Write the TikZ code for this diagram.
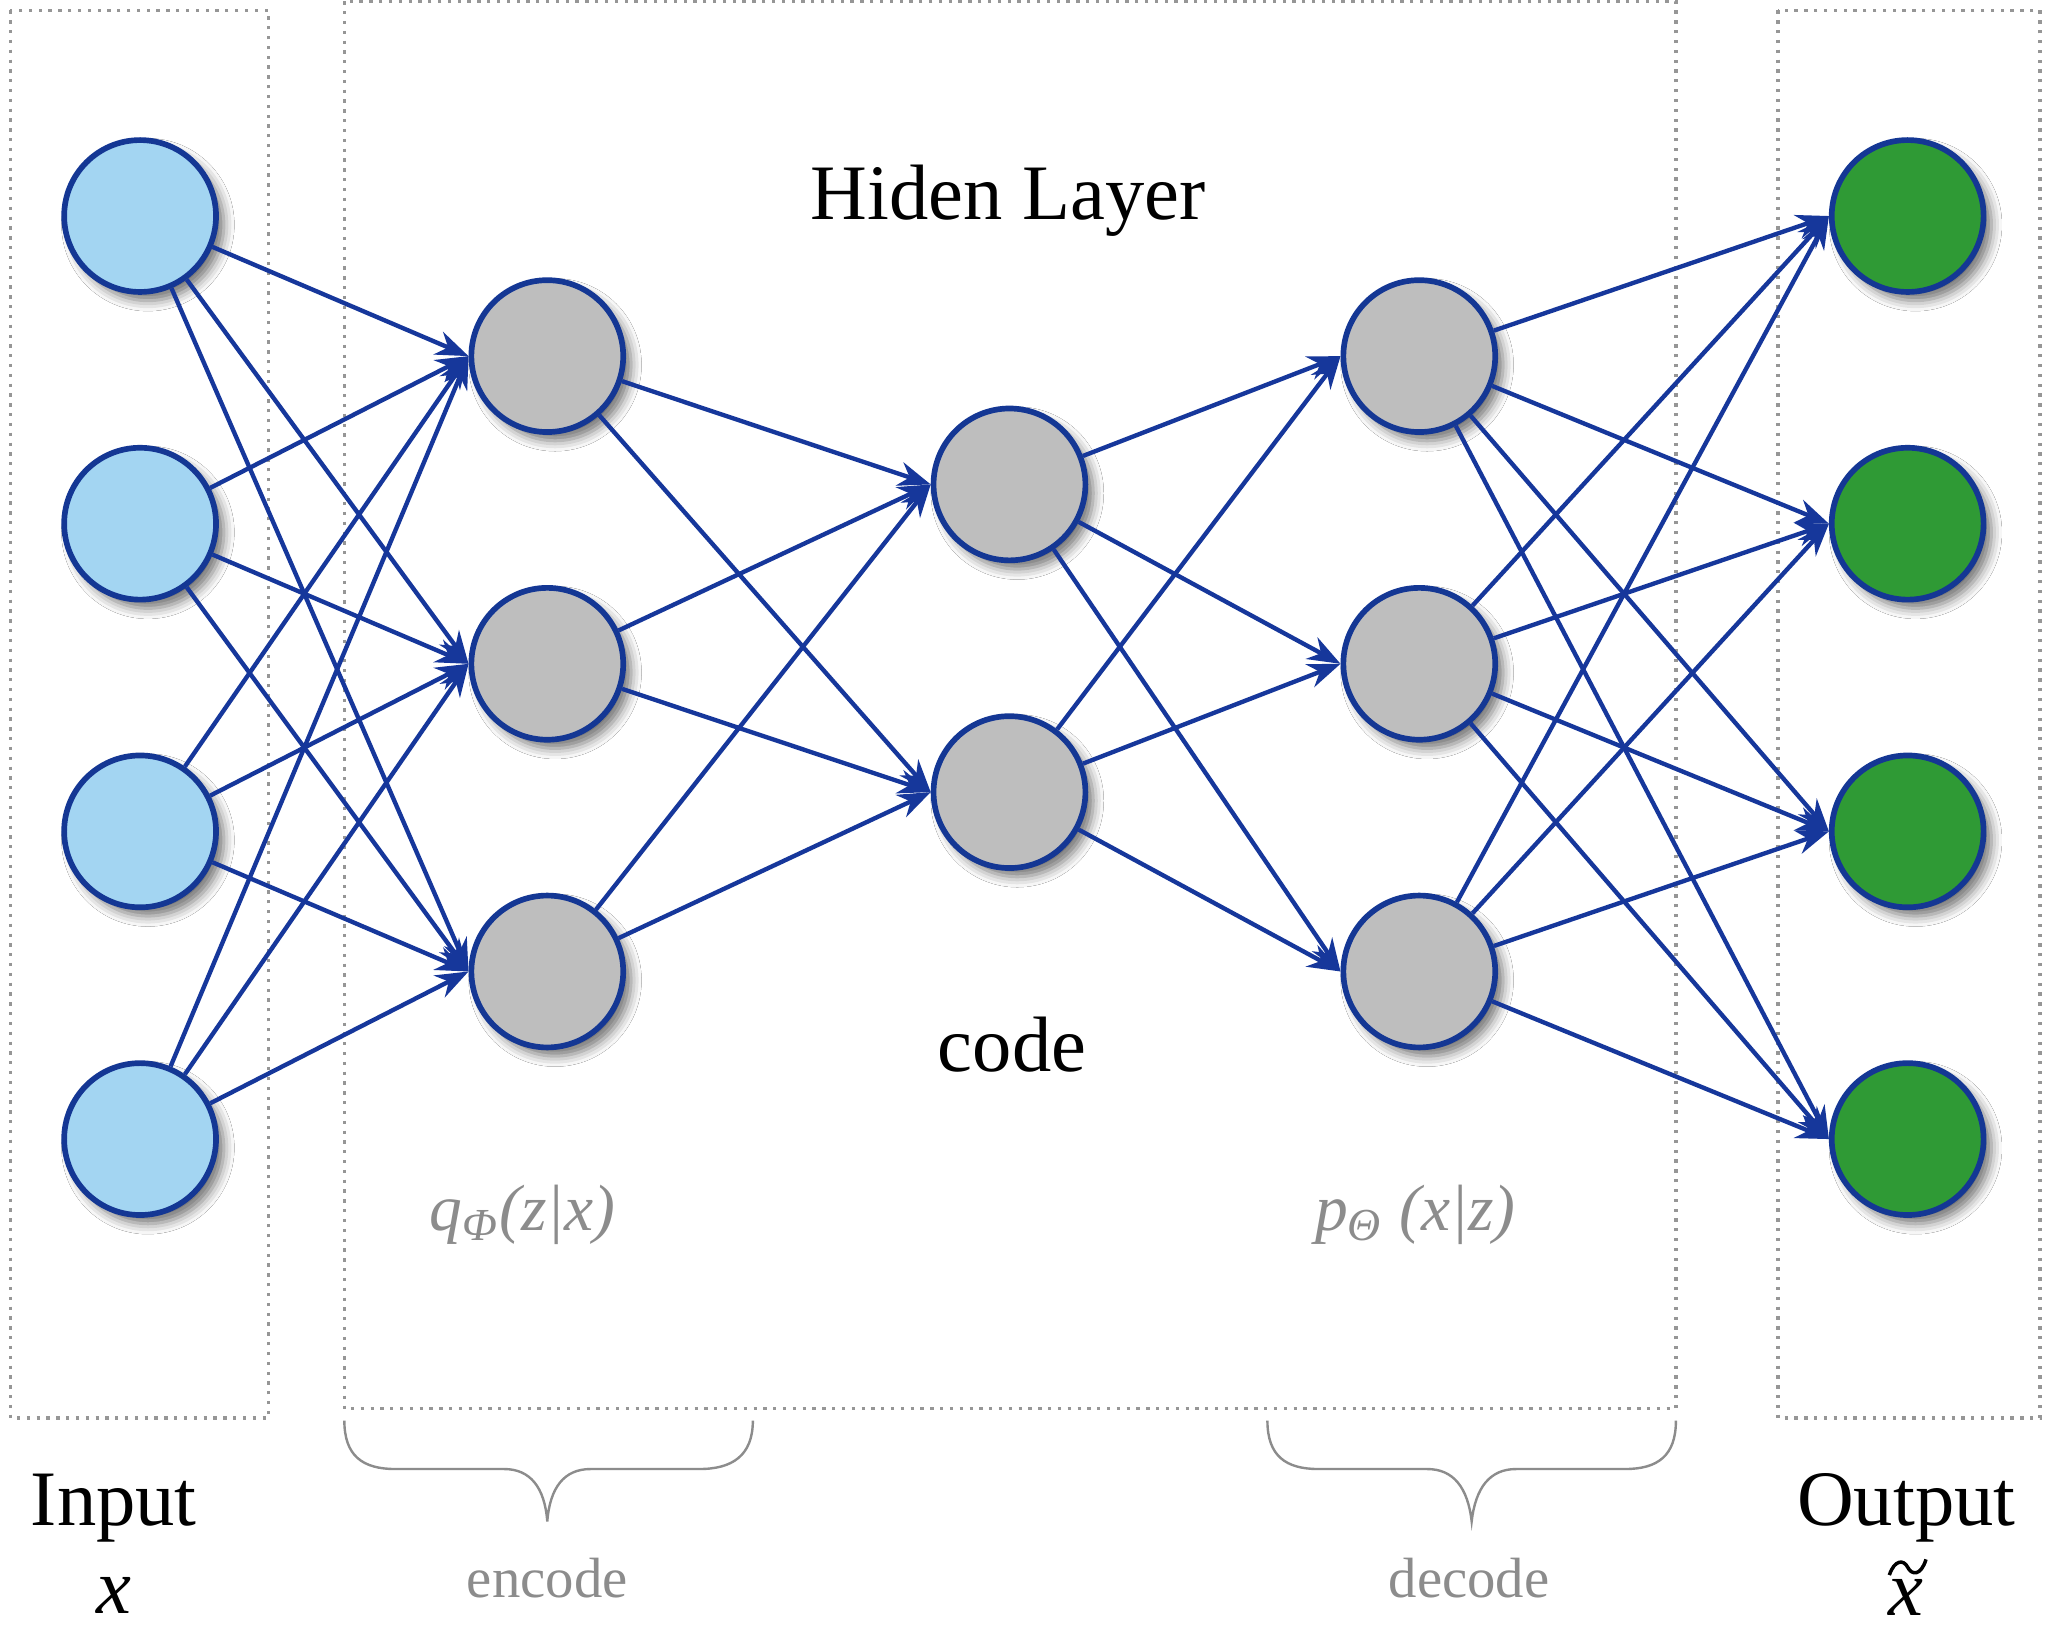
\documentclass[tikz,border=0pt]{standalone}
\usepackage{fontspec}
\setmainfont{Liberation Serif}
\usetikzlibrary{arrows.meta,shadows.blur}
\definecolor{nodeborder}{RGB}{20,55,148}
\definecolor{linkcol}{RGB}{22,55,155}
\definecolor{inblue}{RGB}{163,213,242}
\definecolor{hidgray}{RGB}{190,190,190}
\definecolor{outgreen}{RGB}{47,154,53}
\definecolor{boxgray}{RGB}{150,150,150}
\definecolor{txtgray}{RGB}{140,140,140}
\tikzset{
  neuron/.style={circle,draw=nodeborder,line width=1.3pt,minimum size=34.8pt,inner sep=0pt,
    blur shadow={shadow xshift=1.8pt,shadow yshift=-2pt,shadow blur radius=2.4pt,shadow opacity=55}},
  inneuron/.style={neuron,fill=inblue},
  hidneuron/.style={neuron,fill=hidgray},
  outneuron/.style={neuron,fill=outgreen},
  link/.style={draw=linkcol,line width=1pt,-{Stealth[length=7.5pt,width=5.6pt]}},
  dotbox/.style={draw=boxgray,line width=0.75pt,dash pattern=on 0.75pt off 1.5pt},
  bracecurve/.style={draw=txtgray,line width=0.55pt},
  bigtxt/.style={font=\fontsize{18}{20}\selectfont,anchor=base,inner sep=0pt},
  graytxt/.style={font=\fontsize{13}{15}\selectfont,text=txtgray,anchor=base,inner sep=0pt},
  mathtxt/.style={font=\fontsize{15}{17}\selectfont\itshape,text=txtgray,anchor=base,inner sep=0pt}
}
\begin{document}
\begin{tikzpicture}[x=0.3pt,y=-0.3pt]
\useasboundingbox[fill=white] (0,0) rectangle (1568,1249);
% dotted boxes
\draw[dotbox] (8,8) rectangle (205,1083);
\draw[dotbox] (263,1) rectangle (1280,1076);
\draw[dotbox] (1358,8) rectangle (1558,1083);
% neurons
\foreach \i/\y in {1/165,2/400,3/635,4/870}{
  \node[inneuron] (in\i) at (107,\y) {};
  \node[outneuron] (out\i) at (1457,\y) {};
}
\foreach \i/\y in {1/272,2/507,3/742}{
  \node[hidneuron] (ha\i) at (418,\y) {};
  \node[hidneuron] (hb\i) at (1084,\y) {};
}
\node[hidneuron] (c1) at (771,370) {};
\node[hidneuron] (c2) at (771,605) {};
% links
\foreach \s in {1,2,3,4}{\foreach \t in {1,2,3}{\draw[link] (in\s) -- (ha\t.west);}}
\foreach \s in {1,2,3}{\foreach \t in {1,2}{\draw[link] (ha\s) -- (c\t.west);}}
\foreach \s in {1,2}{\foreach \t in {1,2,3}{\draw[link] (c\s) -- (hb\t.west);}}
\foreach \s in {1,2,3}{\foreach \t in {1,2,3,4}{\draw[link] (hb\s) -- (out\t.west);}}
% texts
\node[bigtxt] (hl) at (770,168) {Hiden Layer};
\node[bigtxt] (code) at (773,818) {code};
\node[mathtxt] (q) at (399,940) {q\textsubscript{Φ}(z|x)};
\node[mathtxt] (p) at (1081,940) {p\textsubscript{Θ} (x|z)};
\node[bigtxt] (inp) at (87,1165) {Input};
\node[bigtxt,font=\fontsize{18}{20}\selectfont\itshape] (xin) at (87,1232) {x};
\node[bigtxt] (outp) at (1456,1165) {Output};
\node[bigtxt,font=\fontsize{18}{20}\selectfont\itshape] (xout) at (1456,1234) {x};
\draw[line width=0.8pt] (1443,1203) .. controls (1447,1191) and (1454,1191) .. (1457,1197)
  .. controls (1460,1203) and (1467,1204) .. (1471,1191);
\node[graytxt] (enc) at (418,1220) {encode};
\node[graytxt] (dec) at (1122,1220) {decode};
% braces
\draw[bracecurve] (263,1085) .. controls (263,1112) and (277,1122) .. (302,1122) -- (385,1122)
  .. controls (405,1122) and (416,1136) .. (418,1162)
  .. controls (420,1136) and (431,1122) .. (451,1122) -- (534,1122)
  .. controls (559,1122) and (575,1112) .. (575,1085);
\draw[bracecurve] (968,1085) .. controls (968,1112) and (982,1122) .. (1007,1122) -- (1090,1122)
  .. controls (1110,1122) and (1121,1136) .. (1124,1162)
  .. controls (1127,1136) and (1138,1122) .. (1158,1122) -- (1241,1122)
  .. controls (1266,1122) and (1280,1112) .. (1280,1085);
\end{tikzpicture}
\end{document}
